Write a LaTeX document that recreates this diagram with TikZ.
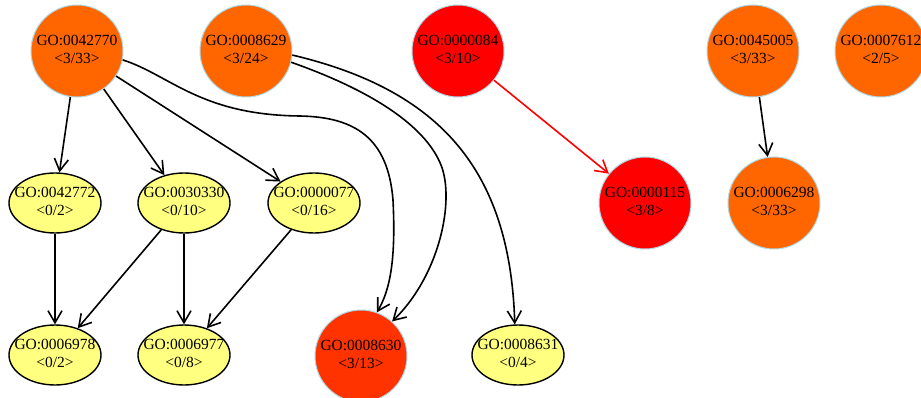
\documentclass[tikz,border=0pt]{standalone}
\usepackage{fontspec}
\setmainfont{Liberation Serif}
\usetikzlibrary{arrows.meta,shapes.geometric}

\definecolor{gorange}{HTML}{FF6600}
\definecolor{gred}{HTML}{FF0000}
\definecolor{gvermilion}{HTML}{FF3300}
\definecolor{gyellow}{HTML}{FFFF80}
\definecolor{grim}{HTML}{ADD8E6}

% two centred lines in a box of no width, so the shape size comes from the style
\newcommand\golines[2]{\makebox[0pt]{\renewcommand\arraystretch{1.05}%
  \begin{tabular}{@{}c@{}}#1\\#2\end{tabular}}}

\begin{document}
\begin{tikzpicture}[x=1pt,y=-1pt,
  every node/.style={font=\fontsize{15.5}{17}\selectfont, inner sep=0pt},
  term/.style={circle, draw=grim, line width=1pt, minimum size=92pt},
  plain/.style={ellipse, draw=black, line width=1.4pt, fill=gyellow,
                minimum width=92pt, minimum height=60pt},
  link/.style={line width=1.6pt,
               -{Straight Barb[length=12pt,width=14pt,line width=1.6pt]}}
]
\useasboundingbox (0,0) rectangle (921,398);

% enriched terms
\node[term, fill=gorange] (g2770) at (77,51)  {\golines{GO:0042770}{<3/33>}};
\node[term, fill=gorange] (g8629) at (246,51) {\golines{GO:0008629}{<3/24>}};
\node[term, fill=gred]    (g0084) at (458,51) {\golines{GO:0000084}{<3/10>}};
\node[term, fill=gorange] (g5005) at (753,51) {\golines{GO:0045005}{<3/33>}};
\node[term, fill=gorange] (g7612) at (881,51) {\golines{GO:0007612}{<2/5>}};
\node[term, fill=gred]    (g0115) at (645,203) {\golines{GO:0000115}{<3/8>}};
\node[term, fill=gorange] (g6298) at (774,203) {\golines{GO:0006298}{<3/33>}};
\node[term, fill=gvermilion] (g8630) at (361,356) {\golines{GO:0008630}{<3/13>}};

% other terms
\node[plain] (g2772) at (55,203)  {\golines{GO:0042772}{<0/2>}};
\node[plain] (g0330) at (184,203) {\golines{GO:0030330}{<0/10>}};
\node[plain] (g0077) at (314,203) {\golines{GO:0000077}{<0/16>}};
\node[plain] (g6978) at (55,355)  {\golines{GO:0006978}{<0/2>}};
\node[plain] (g6977) at (184,355) {\golines{GO:0006977}{<0/8>}};
\node[plain] (g8631) at (518,355) {\golines{GO:0008631}{<0/4>}};

% straight links
\draw[link] (g2770) -- (g2772);
\draw[link] (g2770) -- (g0330);
\draw[link] (g2770) -- (g0077);
\draw[link] (g2772) -- (g6978);
\draw[link] (g0330) -- (g6978);
\draw[link] (g0330) -- (g6977);
\draw[link] (g0077) -- (g6977);
\draw[link] (g5005) -- (g6298);
\draw[link, draw=gred] (g0084) -- (g0115);

% curved links
\draw[link] (g2770.-11) .. controls (170,75) and (200,115) .. (300,116)
  .. controls (355,117) and (388,138) .. (393,200)
  .. controls (396,260) and (390,290) .. (g8630.70);
\draw[link] (g8629.-14) .. controls (370,90) and (425,125) .. (441,165)
  .. controls (455,200) and (440,275) .. (g8630.48);
\draw[link] (g8629.-5) .. controls (440,90) and (510,170) .. (g8631.96);
\end{tikzpicture}
\end{document}
